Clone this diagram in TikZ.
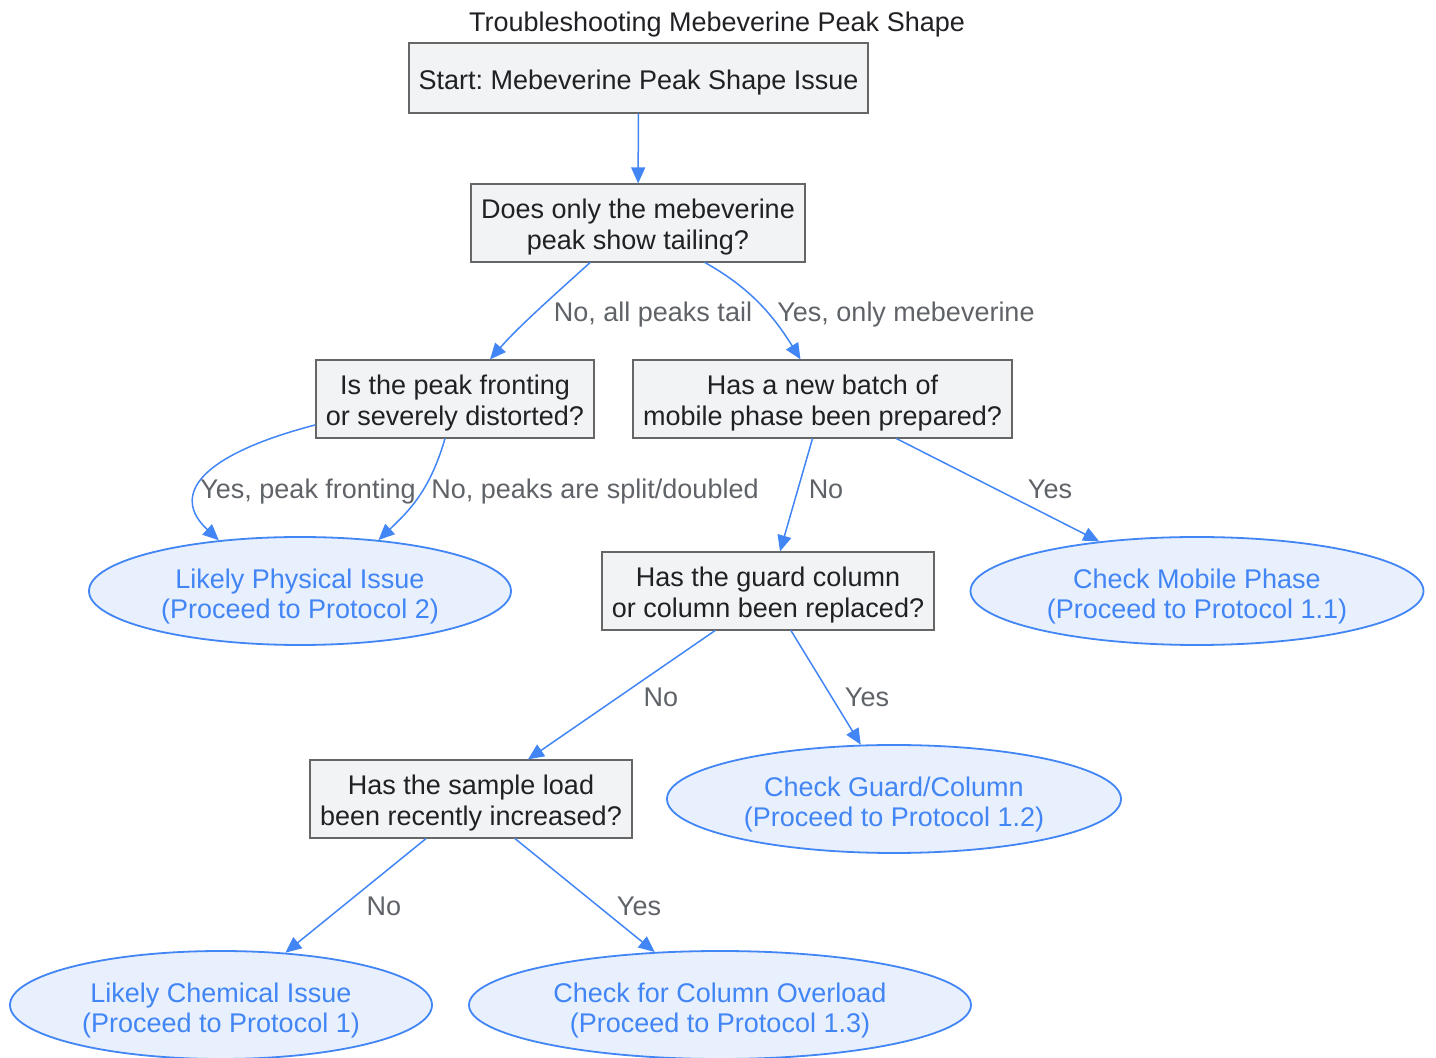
\documentclass[tikz,border=0pt]{standalone}
\usepackage{fontspec}
\setmainfont{Liberation Sans}
\frenchspacing
\usetikzlibrary{shapes.geometric, arrows.meta}
\newcommand{\boxlift}{\rule{0pt}{14pt}}
\newcommand{\ovallift}{\rule{0pt}{14.8pt}}

\begin{document}
\begin{tikzpicture}
		[x=0.5pt,y=-0.5pt,line cap=round,
		%Styles
		question node/.style={rectangle,draw=boxline,fill=boxfill,text=darktext,line width=0.9pt,align=center,
			inner xsep=5pt,inner ysep=3.2pt,minimum height=35pt,font=\fontsize{13.5}{15.5}\selectfont},
		result node/.style={ellipse,draw=flowblue,fill=resultfill,text=flowblue,line width=0.9pt,align=center,
			inner sep=0pt,minimum height=54pt,font=\fontsize{13.5}{15}\selectfont},
		edge text/.style={text=labelgrey,inner sep=0pt,anchor=base,font=\fontsize{13.5}{15.5}\selectfont},
		flow/.style={-{Triangle[length=8pt,width=7pt]},draw=flowblue,line width=0.75pt}
		]
		
		%Colors
		\definecolor{flowblue}{HTML}{4285F4}
		\definecolor{resultfill}{HTML}{E8F0FE}
		\definecolor{boxfill}{HTML}{F2F3F5}
		\definecolor{boxline}{HTML}{666666}
		\definecolor{darktext}{HTML}{202124}
		\definecolor{labelgrey}{HTML}{5F6368}
		
		\useasboundingbox (0,0) rectangle (1436,1058);
		
		%The graphic
		\node[edge text,text=darktext] (title) at (717,32) {Troubleshooting Mebeverine Peak Shape};
		
		\node[question node] (start) at (638.5,78) {\boxlift Start: Mebeverine Peak Shape Issue};
		\node[question node] (Q1) at (638,223) {\boxlift Does only the mebeverine\\peak show tailing?};
		\node[question node] (Q2) at (455,399) {\boxlift Is the peak fronting\\or severely distorted?};
		\node[question node] (Q3) at (822.5,399) {\boxlift Has a new batch of\\mobile phase been prepared?};
		\node[question node] (Q4) at (768,591) {\boxlift Has the guard column\\or column been replaced?};
		\node[question node] (Q5) at (471,799) {\boxlift Has the sample load\\been recently increased?};
		
		\node[result node,minimum width=211pt] (R1) at (300,591) {\ovallift Likely Physical Issue\\(Proceed to Protocol 2)};
		\node[result node,minimum width=226.5pt] (R2) at (1197,591) {\ovallift Check Mobile Phase\\(Proceed to Protocol 1.1)};
		\node[result node,minimum width=227pt] (R3) at (894,799) {\ovallift Check Guard/Column\\(Proceed to Protocol 1.2)};
		\node[result node,minimum width=211pt] (R4) at (221,1005) {\ovallift Likely Chemical Issue\\(Proceed to Protocol 1)};
		\node[result node,minimum width=251pt] (R5) at (720,1005) {\ovallift Check for Column Overload\\(Proceed to Protocol 1.3)};
		
		\draw[flow] (start) -- (Q1);
		\draw[flow] ([xshift=-24pt]Q1.south) .. controls (560,290) and (520,325) .. ([xshift=17.5pt]Q2.north);
		\draw[flow] ([xshift=33.5pt]Q1.south) .. controls (745,285) and (770,310) .. ([xshift=-11pt]Q3.north);
		\draw[flow] ([yshift=-13pt]Q2.west) .. controls (200,455) and (170,495) .. (R1.148);
		\draw[flow] ([xshift=-5pt]Q2.south) .. controls (430,490) and (410,510) .. (R1.33);
		\draw[flow] ([xshift=-5pt]Q3.south) -- ([xshift=6pt]Q4.north);
		\draw[flow] ([xshift=37pt]Q3.south) -- (R2);
		\draw[flow] ([xshift=-26.5pt]Q4.south) -- ([xshift=28.5pt]Q5.north);
		\draw[flow] ([xshift=11.5pt]Q4.south) -- (R3);
		\draw[flow] ([xshift=-22.5pt]Q5.south) -- (R4);
		\draw[flow] ([xshift=22pt]Q5.south) -- (R5);
		
		%Edge labels
		\node[edge text] (L1) at (653,322) {No, all peaks tail};
		\node[edge text] (L2) at (906,322) {Yes, only mebeverine};
		\node[edge text] (L3) at (308,499) {Yes, peak fronting};
		\node[edge text] (L4) at (595,499) {No, peaks are split/doubled};
		\node[edge text] (L5) at (826,499) {No};
		\node[edge text] (L6) at (1050,499) {Yes};
		\node[edge text] (L7) at (661,707) {No};
		\node[edge text] (L8) at (867,707) {Yes};
		\node[edge text] (L9) at (384,915) {No};
		\node[edge text] (L10) at (639,915) {Yes};
	\end{tikzpicture}
\end{document}
